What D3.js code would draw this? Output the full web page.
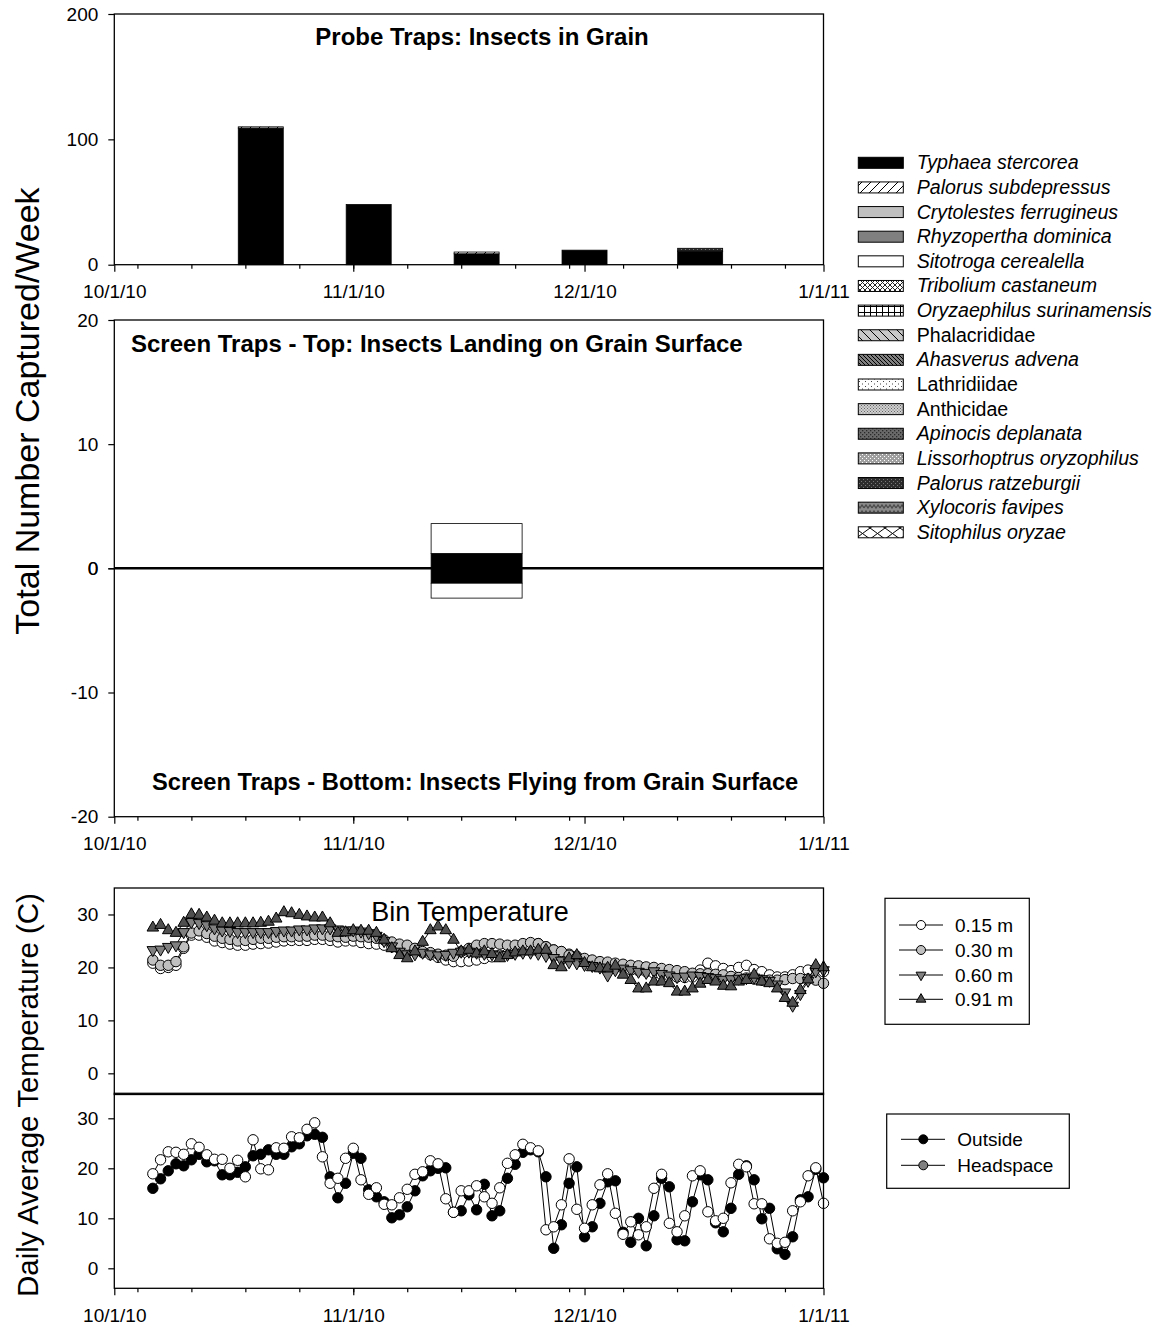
<!DOCTYPE html>
<html>
<head>
<meta charset="utf-8">
<script src="https://cdn.jsdelivr.net/npm/d3@7/dist/d3.min.js"></script>
<style>
  html, body { margin: 0; padding: 0; background: #fff; }
  svg text { font-family: "Liberation Sans", Arial, Helvetica, sans-serif; fill: #000; }
</style>
</head>
<body>
<svg id="chart" width="1156" height="1329"></svg>
<script>
// ---------- Shared time axis ----------
const axisStart = "2010-10-01";
const axisEnd = "2011-01-01";

// ---------- Tick values ----------
const probeTicks = [0, 100, 200];
const screenTopTicks = [0, 10, 20];
const screenBottomTicks = [-20, -10, 0];
const tempTicks = [0, 10, 20, 30];

// ---------- Insect taxa (legend order, also stacking order) ----------
const speciesNames = [
  "Typhaea stercorea", "Palorus subdepressus", "Crytolestes ferrugineus",
  "Rhyzopertha dominica", "Sitotroga cerealella", "Tribolium castaneum",
  "Oryzaephilus surinamensis", "Phalacrididae", "Ahasverus advena",
  "Lathridiidae", "Anthicidae", "Apinocis deplanata",
  "Lissorhoptrus oryzophilus", "Palorus ratzeburgii", "Xylocoris favipes",
  "Sitophilus oryzae"
];
const speciesItalic = [true, true, true, true, true, true, true, false, true,
                       false, false, true, true, true, true, true];

// ---------- Probe traps: insects in grain (per sampling date) ----------
const probeDates = ["2010-10-20", "2010-11-03", "2010-11-17", "2010-12-01", "2010-12-16"];
const probeTyphaea = [109, 48, 8.7, 11.6, 10.5];
const probePalorusSub = [1, 0, 1.4, 0, 0];
const probeSitotroga = [0, 0, 0, 0, 0.4];
const probePalorusRatz = [0, 0, 0, 0, 2.2];

// ---------- Screen traps (top = landing, bottom = flying off) ----------
const screenDates = ["2010-11-17"];
const screenTopTyphaea = [1.2];
const screenTopSitotroga = [2.4];
const screenBottomTyphaea = [1.2];
const screenBottomSitotroga = [1.2];

// ---------- Daily average temperatures (C), from 10/6/10 ----------
const tempStart = "2010-10-06";
const depthLabels = ["0.15 m", "0.30 m", "0.60 m", "0.91 m"];
const airLabels = ["Outside", "Headspace"];

const temp015 = [20.8, 19.8, 20.0, 20.4, 23.6, 26.1, 26.1, 25.7, 25.0, 24.7, 24.4, 24.2, 24.2, 24.4, 24.5, 24.6, 24.8, 25.0, 25.1, 25.1, 25.1, 25.3, 25.3, 25.1, 24.8, 25.0,
  25.0, 24.7, 24.5, 24.4, 24.2, 23.9, 23.6, 23.3, 23.0, 22.8, 22.4, 21.9, 21.4, 21.1, 21.1, 21.2, 21.4, 21.7, 22.0, 22.3, 22.6, 23.3, 23.6, 23.9, 24.5, 23.9, 23.3, 23.0, 22.5, 22.1, 21.5, 21.2,
  20.9, 20.5, 20.0, 19.8, 19.5, 19.4, 19.2, 18.9, 18.6, 18.4, 18.2, 18.1, 18.2, 19.5, 20.8, 20.3, 19.8, 19.4, 20.0, 20.4, 19.6, 19.2, 18.6, 18.2, 18.2, 18.6, 19.2, 19.5, 19.8, 19.2];

const temp030 = [21.4, 20.4, 20.4, 21.1, 23.9, 26.5, 26.9, 26.4, 25.9, 25.5, 25.3, 25.0, 25.1, 25.3, 25.5, 25.5, 25.7, 25.8, 25.8, 25.9, 25.9, 26.1, 26.1, 25.9, 25.8, 25.7,
  25.9, 25.8, 25.7, 25.5, 25.2, 24.8, 24.4, 24.2, 23.6, 23.0, 22.8, 22.5, 22.3, 22.1, 23.0, 23.6, 24.2, 24.5, 24.5, 24.4, 24.2, 24.2, 24.5, 24.7, 24.5, 23.9, 23.3, 23.0, 22.3, 21.9, 21.7, 21.4,
  21.1, 21.0, 20.8, 20.6, 20.4, 20.3, 20.1, 20.0, 19.8, 19.6, 19.4, 19.2, 18.9, 18.8, 18.8, 18.7, 18.6, 18.3, 18.1, 18.0, 17.8, 17.6, 17.6, 17.6, 17.7, 17.9, 17.9, 17.8, 17.6, 17.0];

const temp060 = [23.3, 23.4, 23.9, 24.2, 26.7, 28.6, 28.4, 28.0, 27.4, 27.0, 26.9, 26.7, 26.7, 26.7, 26.7, 26.7, 26.9, 27.0, 27.0, 27.2, 27.2, 27.4, 27.4, 27.4, 27.2, 27.0,
  27.0, 26.8, 26.5, 26.0, 25.0, 24.0, 23.0, 22.5, 22.5, 22.8, 22.5, 22.3, 22.4, 22.8, 23.0, 23.0, 22.8, 22.6, 22.5, 22.3, 22.4, 22.6, 22.8, 22.8, 22.6, 22.2, 21.8, 21.3, 21.0, 20.8, 20.5, 20.3,
  20.0, 18.5, 19.5, 19.8, 19.5, 19.2, 19.0, 19.3, 18.8, 18.5, 18.2, 18.3, 18.5, 18.4, 18.2, 18.0, 17.7, 17.8, 17.9, 18.0, 18.1, 17.8, 17.5, 16.8, 15.3, 12.8, 15.0, 17.5, 19.3, 19.5];

const temp091 = [27.5, 28.0, 27.0, 26.5, 28.4, 30.0, 29.9, 29.4, 28.8, 28.3, 28.3, 28.3, 28.3, 28.3, 28.4, 28.6, 29.2, 30.4, 30.2, 29.9, 29.6, 29.4, 29.4, 28.3, 26.5, 26.6,
  27.0, 26.9, 26.9, 26.5, 25.2, 23.6, 22.3, 21.7, 23.0, 24.8, 27.0, 27.7, 27.0, 25.2, 23.0, 23.3, 22.6, 23.0, 22.5, 21.7, 22.3, 22.8, 23.0, 23.0, 23.3, 23.3, 20.4, 20.0, 21.7, 22.3, 20.8, 20.0,
  19.8, 19.9, 20.3, 18.6, 17.6, 16.0, 16.0, 17.3, 17.3, 17.0, 15.4, 15.4, 16.0, 16.9, 17.6, 17.3, 16.5, 16.4, 17.3, 17.6, 18.6, 17.3, 17.0, 16.0, 14.2, 13.3, 15.7, 17.7, 20.4, 20.0];

const tempOutside = [16.0, 17.9, 19.5, 20.9, 20.5, 21.7, 22.8, 21.3, 21.5, 18.7, 18.7, 19.2, 20.3, 22.5, 22.8, 23.7, 22.8, 22.8, 24.3, 24.9, 26.5, 26.8, 26.2, 18.3, 14.1, 17.0,
  23.0, 22.0, 15.7, 14.3, 13.3, 10.1, 10.7, 12.3, 15.5, 18.5, 19.5, 20.0, 20.1, 11.2, 11.5, 14.7, 11.7, 16.8, 10.5, 11.5, 18.0, 20.8, 23.2, 23.7, 23.3, 18.3, 4.0, 8.7, 17.0, 20.3, 6.3, 8.3,
  13.0, 17.3, 17.5, 7.2, 5.2, 10.0, 4.5, 10.5, 18.0, 16.3, 5.7, 5.5, 13.3, 18.7, 17.7, 9.1, 7.3, 12.0, 18.8, 20.5, 17.7, 9.9, 12.0, 3.9, 2.8, 6.3, 13.7, 14.3, 19.8, 18.1];

const tempHeadspace = [18.9, 21.7, 23.3, 23.2, 22.8, 24.9, 24.2, 22.7, 21.8, 21.8, 20.0, 21.6, 18.3, 25.7, 19.9, 19.7, 24.1, 24.0, 26.3, 26.1, 27.8, 29.1, 22.3, 17.0, 18.0, 22.0,
  24.0, 17.7, 14.8, 16.1, 12.8, 12.7, 14.1, 15.8, 18.8, 19.3, 21.5, 20.9, 13.9, 11.2, 15.5, 15.5, 16.5, 14.3, 13.0, 16.1, 21.0, 22.7, 24.8, 24.1, 23.5, 7.7, 8.3, 12.7, 21.9, 11.8, 8.0, 12.7,
  16.7, 18.9, 11.0, 6.8, 9.3, 6.7, 8.3, 16.0, 18.8, 9.0, 7.3, 10.5, 18.5, 19.5, 11.3, 9.5, 10.0, 17.1, 20.8, 20.3, 12.9, 12.9, 5.9, 5.0, 5.2, 11.5, 13.3, 18.5, 20.1, 13.0];

// ================= drawing =================
const svg = d3.select("#chart");
const parse = d3.timeParse("%Y-%m-%d");
const FONT = '"Liberation Sans", Arial, Helvetica, sans-serif';
const TICK_FONT = 19;
const TITLE_FONT = "24px";

const left = 114.3, right = 823.5;
const x = d3.scaleTime().domain([parse(axisStart), parse(axisEnd)]).range([left, right]);

// vertical layout of the plot frames
const yProbe = d3.scaleLinear().domain([0, 200]).range([264.7, 14]);
const yScreenTop = d3.scaleLinear().domain([0, 20]).range([568.3, 320]);
const yScreenBottom = d3.scaleLinear().domain([-20, 0]).range([816.7, 568.3]);
const yBin = d3.scaleLinear().domain([-4, 35]).range([1094.5, 888]);
const yAir = d3.scaleLinear().domain([-4, 35]).range([1288.3, 1093.3]);

// ---------- fill patterns for the taxa ----------
const defs = svg.append("defs");
function pat(id, w, h, bg, draw) {
  const p = defs.append("pattern").attr("id", id).attr("patternUnits", "userSpaceOnUse")
    .attr("width", w).attr("height", h);
  p.append("rect").attr("width", w).attr("height", h).attr("fill", bg);
  draw(p);
  return `url(#${id})`;
}
const stroke = (p, d, c = "#000", w = 1) =>
  p.append("path").attr("d", d).attr("stroke", c).attr("stroke-width", w).attr("fill", "none");
const dots = (p, pts, c, s = 1) =>
  pts.forEach(([a, b]) => p.append("rect").attr("x", a).attr("y", b).attr("width", s).attr("height", s).attr("fill", c));

const speciesFill = [
  "#000000",
  pat("fwd", 9, 9, "#fff", p => stroke(p, "M0,9L9,0M-3,3L3,-3M6,12L12,6", "#000", 1)),
  "#c0c0c0",
  "#808080",
  "#ffffff",
  pat("xhatch", 5, 5, "#fff", p => stroke(p, "M0,0L5,5M5,0L0,5", "#222", 1)),
  pat("grid", 6, 6, "#fff", p => stroke(p, "M0,0.5H6M0.5,0V6", "#000", 1)),
  pat("back", 9, 9, "#c8c8c8", p => stroke(p, "M0,0L9,9M-3,6L3,12M6,-3L12,3", "#000", 1)),
  pat("backdense", 4, 4, "#808080", p => stroke(p, "M0,0L4,4M-2,2L2,6M2,-2L6,2", "#000", 1)),
  pat("sparse", 6, 5, "#fff", p => dots(p, [[1, 1], [4, 3.5]], "#444", 1)),
  pat("stipple", 3, 3, "#d0d0d0", p => dots(p, [[0, 0], [1.5, 1.5]], "#666", 1)),
  pat("darkhatch", 4, 4, "#6a6a6a", p => dots(p, [[0, 0], [2, 2]], "#2a2a2a", 1.3)),
  pat("whitedots", 4, 4, "#a0a0a0", p => dots(p, [[0, 0], [2, 2]], "#fff", 1)),
  pat("blackdots", 4, 4, "#2c2c2c", p => dots(p, [[1, 1], [3, 3]], "#777", 1)),
  pat("zigzag", 8, 6, "#8a8a8a", p => stroke(p, "M0,4L2,1L4,4L6,1L8,4", "#4a4a4a", 1.3)),
  pat("bigx", 15, 11, "#fff", p => stroke(p, "M0,0L15,11M15,0L0,11", "#000", 1))
];

// ---------- axes helpers ----------
const intLabel = d => String(Math.round(d));   // plain hyphen-minus for negatives

function timeAxis(yPos, withLabels) {
  const g = svg.append("g").attr("transform", `translate(0,${yPos})`);
  const weeks = d3.timeMonday.range(x.domain()[0], d3.timeDay.offset(x.domain()[1], 1));
  const months = d3.timeMonth.range(x.domain()[0], d3.timeDay.offset(x.domain()[1], 1));
  g.append("g").call(d3.axisBottom(x).tickValues(weeks).tickSize(4).tickSizeOuter(0).tickFormat(""))
    .call(a => a.select(".domain").remove());
  const major = g.append("g").call(d3.axisBottom(x).tickValues(months).tickSize(7).tickSizeOuter(0)
    .tickPadding(13).tickFormat(withLabels ? d3.timeFormat("%-m/%-d/%y") : ""))
    .call(a => a.select(".domain").remove());
  g.selectAll("line").attr("stroke", "#000").attr("stroke-width", 1.2);
  major.attr("font-size", TICK_FONT).attr("font-family", FONT);
  major.selectAll("text").attr("fill", "#000");
}
function valueAxis(scale, ticks) {
  const g = svg.append("g").attr("transform", `translate(${left},0)`)
    .call(d3.axisLeft(scale).tickValues(ticks).tickSize(6).tickPadding(10).tickSizeOuter(0).tickFormat(intLabel))
    .call(a => a.select(".domain").remove());
  g.attr("font-size", TICK_FONT).attr("font-family", FONT);
  g.selectAll("line").attr("stroke", "#000").attr("stroke-width", 1.2);
  g.selectAll("text").attr("fill", "#000");
}
function frame(y0, y1) {
  svg.append("rect").attr("x", left).attr("y", y0).attr("width", right - left).attr("height", y1 - y0)
    .attr("fill", "none").attr("stroke", "#000").attr("stroke-width", 1.3);
}

// ---------- stacked bars ----------
function stackedBars(dates, series, yScale, sign, barWidth) {
  const rows = dates.map((d, i) => {
    const r = { date: parse(d) };
    series.forEach((s, k) => { r[k] = sign * s.values[i]; });
    return r;
  });
  const layers = d3.stack().keys(series.map((s, k) => k)).offset(d3.stackOffsetDiverging)(rows);
  layers.forEach((layer, k) => {
    const sp = series[k].sp;
    svg.append("g").selectAll("rect")
      .data(layer.filter(d => Math.abs(d[1] - d[0]) > 0))
      .join("rect")
      .attr("x", d => x(d.data.date) - barWidth / 2)
      .attr("width", barWidth)
      .attr("y", d => yScale(Math.max(d[0], d[1])))
      .attr("height", d => Math.abs(yScale(d[0]) - yScale(d[1])))
      .attr("fill", speciesFill[sp])
      .attr("stroke", "#000").attr("stroke-width", 0.8);
  });
}

// ===== Panel 1: probe traps =====
stackedBars(probeDates, [
  { sp: 0, values: probeTyphaea },
  { sp: 1, values: probePalorusSub },
  { sp: 4, values: probeSitotroga },
  { sp: 13, values: probePalorusRatz }
], yProbe, 1, 45);
frame(yProbe(200), yProbe(0));
valueAxis(yProbe, probeTicks);
timeAxis(yProbe(0), true);
svg.append("text").attr("x", 482).attr("y", 45).attr("text-anchor", "middle")
  .style("font-size", TITLE_FONT).style("font-weight", "bold").text("Probe Traps: Insects in Grain");

// ===== Panel 2: screen traps =====
stackedBars(screenDates, [
  { sp: 0, values: screenTopTyphaea },
  { sp: 4, values: screenTopSitotroga }
], yScreenTop, 1, 91);
stackedBars(screenDates, [
  { sp: 0, values: screenBottomTyphaea },
  { sp: 4, values: screenBottomSitotroga }
], yScreenBottom, -1, 91);
frame(yScreenTop(20), yScreenBottom(-20));
svg.append("line").attr("x1", left).attr("x2", right).attr("y1", yScreenTop(0)).attr("y2", yScreenTop(0))
  .attr("stroke", "#000").attr("stroke-width", 2.6);
valueAxis(yScreenTop, screenTopTicks);
valueAxis(yScreenBottom, screenBottomTicks);
timeAxis(yScreenBottom(-20), true);
svg.append("text").attr("x", 131).attr("y", 352)
  .style("font-size", TITLE_FONT).style("font-weight", "bold")
  .text("Screen Traps - Top: Insects Landing on Grain Surface");
svg.append("text").attr("x", 152).attr("y", 790)
  .style("font-size", "23.7px").style("font-weight", "bold")
  .text("Screen Traps - Bottom: Insects Flying from Grain Surface");

// ---------- taxa legend ----------
const legRow = d3.scaleLinear().domain([0, speciesNames.length - 1]).range([162.8, 532.3]);
const leg = svg.append("g");
speciesNames.forEach((name, i) => {
  const cy = legRow(i);
  leg.append("rect").attr("x", 858.3).attr("y", cy - 5.5).attr("width", 45).attr("height", 11)
    .attr("fill", speciesFill[i]).attr("stroke", "#000").attr("stroke-width", 1);
  leg.append("text").attr("x", 916.7).attr("y", cy + 6.5).style("font-size", "19.6px")
    .style("font-style", speciesItalic[i] ? "italic" : "normal").text(name);
});

// ===== Panels 3 & 4: temperatures =====
const t0 = parse(tempStart);
const dayOf = i => d3.timeDay.offset(t0, i);

const markerCircle = r => d3.symbol().type(d3.symbolCircle).size(Math.PI * r * r);
const markerTri = d3.symbol().type(d3.symbolTriangle).size(58);

function series(values, yScale, marker, fill, rotate) {
  const pts = values.map((v, i) => [x(dayOf(i)), yScale(v)]);
  svg.append("path").attr("d", d3.line()(pts)).attr("fill", "none")
    .attr("stroke", "#000").attr("stroke-width", 1);
  svg.append("g").selectAll("path").data(pts).join("path")
    .attr("d", marker)
    .attr("transform", d => `translate(${d[0]},${d[1]})${rotate ? " rotate(180)" : ""}`)
    .attr("fill", fill).attr("stroke", "#000").attr("stroke-width", 1);
}

const binStyles = [
  { m: markerCircle(5.2), fill: "#ffffff", rot: false },
  { m: markerCircle(5.2), fill: "#c0c0c0", rot: false },
  { m: markerTri, fill: "#808080", rot: true },
  { m: markerTri, fill: "#505050", rot: false }
];
[temp015, temp030, temp060, temp091].forEach((vals, k) =>
  series(vals, yBin, binStyles[k].m, binStyles[k].fill, binStyles[k].rot));
frame(yBin(35), yBin(-4));
valueAxis(yBin, tempTicks);
svg.append("text").attr("x", 470).attr("y", 921).attr("text-anchor", "middle")
  .style("font-size", "27px").text("Bin Temperature");

series(tempOutside, yAir, markerCircle(5.2), "#000000", false);
series(tempHeadspace, yAir, markerCircle(5.2), "#ffffff", false);
frame(yAir(35), yAir(-4));
valueAxis(yAir, tempTicks);
timeAxis(yAir(-4), true);

// ---------- line legends ----------
function lineLegend(box, rows, x0, x1, xm, xt, items) {
  svg.append("rect").attr("x", box[0]).attr("y", box[1]).attr("width", box[2]).attr("height", box[3])
    .attr("fill", "#fff").attr("stroke", "#000").attr("stroke-width", 1.2);
  items.forEach((it, i) => {
    const cy = rows[i];
    svg.append("line").attr("x1", x0).attr("x2", x1).attr("y1", cy).attr("y2", cy)
      .attr("stroke", "#000").attr("stroke-width", 1);
    svg.append("path").attr("d", it.m).attr("transform", `translate(${xm},${cy})${it.rot ? " rotate(180)" : ""}`)
      .attr("fill", it.fill).attr("stroke", "#000").attr("stroke-width", 1);
    svg.append("text").attr("x", xt).attr("y", cy + 7).style("font-size", "19px").text(it.label);
  });
}
const legTri = d3.symbol().type(d3.symbolTriangle).size(42);
lineLegend([885, 898.3, 144.3, 126], [925, 950, 975, 999.3], 899, 943, 921, 955,
  depthLabels.map((lab, k) => ({
    label: lab,
    m: k < 2 ? markerCircle(4.5) : legTri,
    fill: binStyles[k].fill,
    rot: binStyles[k].rot
  })));
lineLegend([886.7, 1114, 182.6, 74.3], [1139.3, 1165.3], 901, 945, 923.3, 957.3, [
  { label: airLabels[0], m: markerCircle(4.5), fill: "#000000", rot: false },
  { label: airLabels[1], m: markerCircle(4.5), fill: "#808080", rot: false }
]);

// ---------- axis titles ----------
svg.append("text").attr("transform", "translate(39,411) rotate(-90)").attr("text-anchor", "middle")
  .style("font-size", "34px").text("Total Number Captured/Week");
svg.append("text").attr("transform", "translate(38,1095) rotate(-90)").attr("text-anchor", "middle")
  .style("font-size", "29.5px").text("Daily Average Temperature (C)");
</script>
</body>
</html>
